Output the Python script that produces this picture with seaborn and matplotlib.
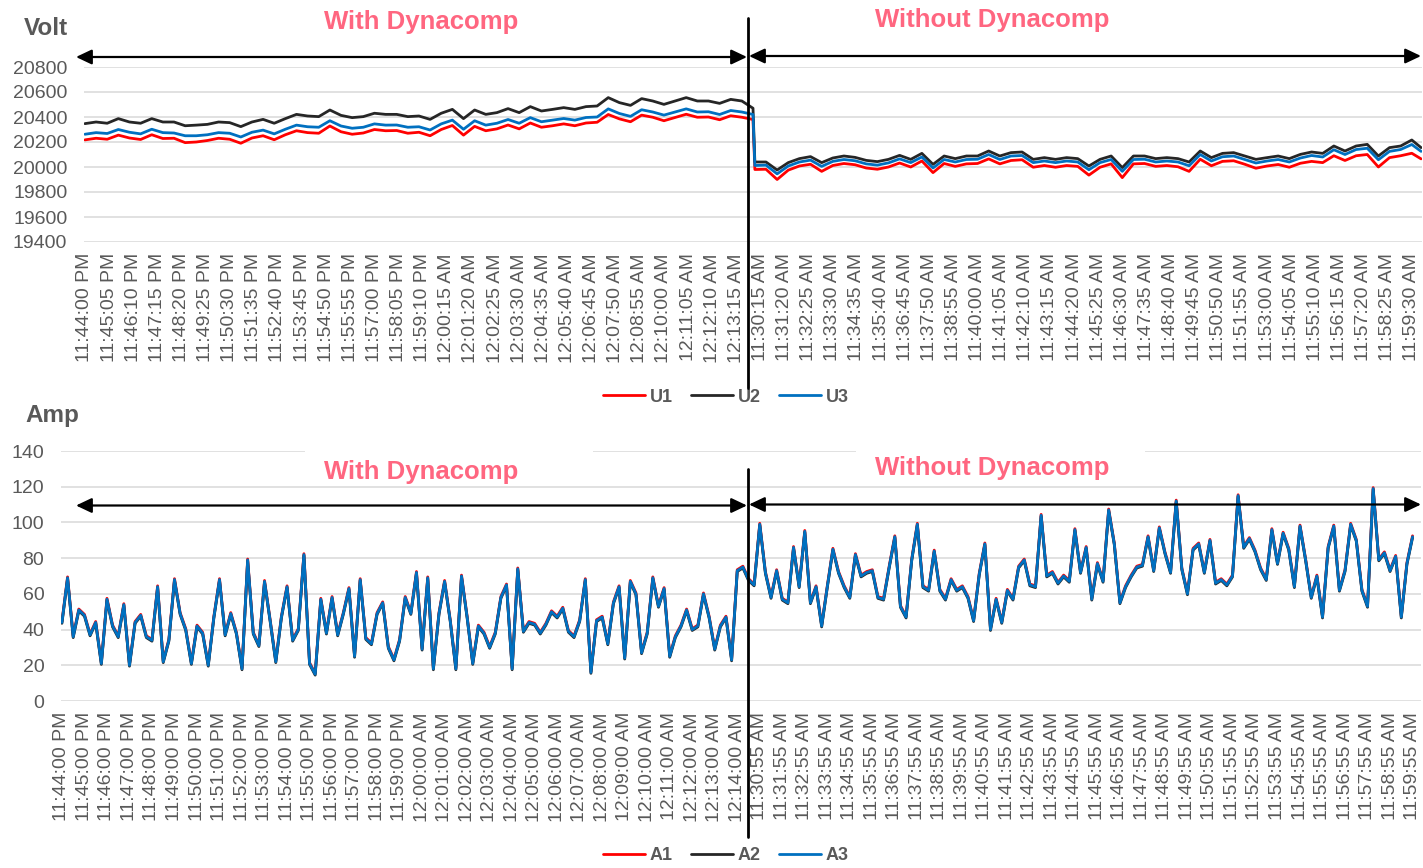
import numpy as np
import matplotlib
matplotlib.use("Agg")
import matplotlib.pyplot as plt
import seaborn as sns
from matplotlib.patches import Rectangle, FancyArrowPatch
from matplotlib.lines import Line2D

# ---------------- data ----------------
series_volt = ["U1", "U2", "U3"]
series_amp = ["A1", "A2", "A3"]

# sample positions (record numbers, 5 s apart) of the readings
volt_idx = list(range(0, 361, 6)) + list(range(361, 721, 6)) + [720]
amp_idx = list(range(0, 721, 3))

U2 = [20347, 20360, 20350, 20387, 20360, 20350, 20387, 20360, 20360, 20330,
      20335, 20341, 20360, 20355, 20323, 20360, 20381, 20350, 20387, 20421,
      20408, 20403, 20456, 20413, 20395, 20403, 20430, 20421, 20421, 20403,
      20408, 20381, 20430, 20461, 20387, 20456, 20421, 20435, 20467, 20435,
      20483, 20448, 20461, 20475, 20461, 20483, 20488, 20555, 20515, 20493,
      20547, 20528, 20501, 20528, 20555, 20528, 20528, 20509, 20541, 20528,
      20470,
      20040, 20040, 19976, 20035, 20067, 20083, 20035, 20072, 20088, 20077,
      20053, 20043, 20061, 20093, 20061, 20109, 20021, 20088, 20067, 20088,
      20088, 20128, 20088, 20115, 20120, 20061, 20075, 20061, 20075, 20067,
      20008, 20061, 20088, 19995, 20088, 20088, 20067, 20075, 20067, 20040,
      20128, 20075, 20109, 20115, 20088, 20061, 20075, 20088, 20067, 20101,
      20120, 20109, 20168, 20128, 20168, 20181, 20088, 20155, 20168, 20216,
      20155]

U3 = [20262, 20275, 20268, 20300, 20278, 20265, 20302, 20275, 20272, 20250,
      20250, 20258, 20275, 20270, 20240, 20278, 20295, 20265, 20302, 20335,
      20322, 20318, 20370, 20328, 20310, 20318, 20345, 20335, 20336, 20318,
      20322, 20296, 20345, 20375, 20302, 20370, 20335, 20350, 20380, 20350,
      20395, 20362, 20375, 20388, 20375, 20396, 20400, 20465, 20428, 20405,
      20458, 20440, 20415, 20440, 20465, 20440, 20442, 20420, 20452, 20440,
      20420,
      20012, 20015, 19945, 20008, 20040, 20055, 20005, 20045, 20060, 20050,
      20025, 20015, 20033, 20065, 20035, 20080, 19992, 20060, 20040, 20060,
      20062, 20100, 20060, 20088, 20092, 20035, 20048, 20035, 20048, 20040,
      19978, 20035, 20060, 19965, 20060, 20062, 20040, 20048, 20040, 20010,
      20100, 20048, 20082, 20088, 20060, 20032, 20048, 20060, 20040, 20072,
      20092, 20080, 20138, 20100, 20140, 20150, 20058, 20125, 20140, 20180,
      20125]

U1 = [20217, 20230, 20222, 20255, 20232, 20220, 20258, 20228, 20230, 20195,
      20200, 20212, 20230, 20222, 20190, 20232, 20250, 20218, 20258, 20290,
      20275, 20270, 20328, 20282, 20262, 20272, 20300, 20290, 20292, 20270,
      20278, 20250, 20300, 20332, 20255, 20325, 20290, 20305, 20336, 20305,
      20352, 20318, 20330, 20345, 20330, 20352, 20358, 20420, 20385, 20362,
      20415, 20398, 20370, 20396, 20422, 20398, 20400, 20378, 20410, 20398,
      20380,
      19980, 19982, 19900, 19975, 20008, 20022, 19965, 20012, 20028, 20018,
      19992, 19982, 20000, 20032, 20000, 20048, 19955, 20028, 20005, 20025,
      20028, 20065, 20025, 20052, 20058, 19998, 20012, 19998, 20012, 20005,
      19935, 19998, 20025, 19915, 20025, 20028, 20005, 20012, 20002, 19965,
      20062, 20010, 20045, 20050, 20022, 19990, 20008, 20020, 19998, 20030,
      20045, 20035, 20090, 20052, 20090, 20100, 20000, 20075, 20090, 20110,
      20065]

A3 = [44, 69, 36, 51, 48, 37, 44, 21, 57, 42, 36, 54, 20, 44, 48, 36, 34, 64, 22, 34,
      68, 49, 40, 21, 42, 38, 20, 47, 68, 37, 49, 38, 18, 79, 38, 31, 67, 45, 22, 47,
      64, 34, 40, 82, 21, 15, 57, 38, 58, 37, 49, 63, 25, 68, 35, 32, 49, 55, 30, 23,
      34, 58, 49, 72, 29, 69, 18, 49, 67, 45, 18, 70, 47, 21, 42,
      38, 30, 38, 58, 65, 18, 74, 39, 44, 43, 38, 43, 50, 47, 52, 39, 36, 45, 68, 16,
      45, 47, 32, 55, 64, 24, 67, 60, 27, 38, 69, 53, 63, 25, 36, 42, 51, 40, 42, 60,
      47, 29, 42, 47, 23, 73, 75, 68, 65, 99, 72, 58, 73, 57, 55, 86, 64, 95, 55, 64,
      42, 64, 85, 72, 64, 58, 82, 70, 72, 73, 58, 57, 75, 92, 53, 47, 79, 99, 64, 62,
      84, 62, 57, 68, 62,
      64, 58, 45, 71, 88, 40, 57, 44, 62, 57, 75, 79, 65, 64, 104, 70, 72, 66, 70, 67,
      96, 72, 86, 57, 77, 67, 107, 88, 55, 64, 70, 75, 76, 92, 73, 97, 83, 72, 112, 74,
      60, 85, 88, 72, 90, 66, 68, 65, 70, 115, 86, 91, 84, 74, 68, 96, 77, 94, 85, 64,
      98, 79, 58, 70, 47, 86, 98, 62, 73, 99, 90, 62, 53, 119, 79, 83, 73, 81, 47, 77,
      92]

A1 = [44.5, 69.5, 36.5, 51.5, 48.5, 37.5, 44.5, 21.5, 57.5, 42.5, 36.5, 54.5, 20.5, 44.5, 48.5, 36.5, 34.5, 64.5, 22.5, 34.5,
      68.5, 49.5, 40.5, 21.5, 42.5, 38.5, 20.5, 47.5, 68.5, 37.5, 49.5, 38.5, 18.5, 79.5, 38.5, 31.5, 67.5, 45.5, 22.5, 47.5,
      64.5, 34.5, 40.5, 82.5, 21.5, 15.5, 57.5, 38.5, 58.5, 37.5, 49.5, 63.5, 25.5, 68.5, 35.5, 32.5, 49.5, 55.5, 30.5, 23.5,
      34.5, 58.5, 49.5, 72.5, 29.5, 69.5, 18.5, 49.5, 67.5, 45.5, 18.5, 70.5, 47.5, 21.5, 42.5,
      38.5, 30.5, 38.5, 58.5, 65.5, 18.5, 74.5, 39.5, 44.5, 43.5, 38.5, 43.5, 50.5, 47.5, 52.5, 39.5, 36.5, 45.5, 68.5, 16.5,
      45.5, 47.5, 32.5, 55.5, 64.5, 24.5, 67.5, 60.5, 27.5, 38.5, 69.5, 53.5, 63.5, 25.5, 36.5, 42.5, 51.5, 40.5, 42.5, 60.5,
      47.5, 29.5, 42.5, 47.5, 23.5, 73.5, 75.5, 68.5, 65.5, 99.5, 72.5, 58.5, 73.5, 57.5, 55.5, 86.5, 64.5, 95.5, 55.5, 64.5,
      42.5, 64.5, 85.5, 72.5, 64.5, 58.5, 82.5, 70.5, 72.5, 73.5, 58.5, 57.5, 75.5, 92.5, 53.5, 47.5, 79.5, 99.5, 64.5, 62.5,
      84.5, 62.5, 57.5, 68.5, 62.5,
      64.5, 58.5, 45.5, 71.5, 88.5, 40.5, 57.5, 44.5, 62.5, 57.5, 75.5, 79.5, 65.5, 64.5, 104.5, 70.5, 72.5, 66.5, 70.5, 67.5,
      96.5, 72.5, 86.5, 57.5, 77.5, 67.5, 107.5, 88.5, 55.5, 64.5, 70.5, 75.5, 76.5, 92.5, 73.5, 97.5, 83.5, 72.5, 112.5, 74.5,
      60.5, 85.5, 88.5, 72.5, 90.5, 66.5, 68.5, 65.5, 70.5, 115.5, 86.5, 91.5, 84.5, 74.5, 68.5, 96.5, 77.5, 94.5, 85.5, 64.5,
      98.5, 79.5, 58.5, 70.5, 47.5, 86.5, 98.5, 62.5, 73.5, 99.5, 90.5, 62.5, 53.5, 119.5, 79.5, 83.5, 73.5, 81.5, 47.5, 77.5,
      92.5]

A2 = [43.5, 68.5, 35.5, 50.5, 47.5, 36.5, 43.5, 20.5, 56.5, 41.5, 35.5, 53.5, 19.5, 43.5, 47.5, 35.5, 33.5, 63.5, 21.5, 33.5,
      67.5, 48.5, 39.5, 20.5, 41.5, 37.5, 19.5, 46.5, 67.5, 36.5, 48.5, 37.5, 17.5, 78.5, 37.5, 30.5, 66.5, 44.5, 21.5, 46.5,
      63.5, 33.5, 39.5, 81.5, 20.5, 14.5, 56.5, 37.5, 57.5, 36.5, 48.5, 62.5, 24.5, 67.5, 34.5, 31.5, 48.5, 54.5, 29.5, 22.5,
      33.5, 57.5, 48.5, 71.5, 28.5, 68.5, 17.5, 48.5, 66.5, 44.5, 17.5, 69.5, 46.5, 20.5, 41.5,
      37.5, 29.5, 37.5, 57.5, 64.5, 17.5, 73.5, 38.5, 43.5, 42.5, 37.5, 42.5, 49.5, 46.5, 51.5, 38.5, 35.5, 44.5, 67.5, 15.5,
      44.5, 46.5, 31.5, 54.5, 63.5, 23.5, 66.5, 59.5, 26.5, 37.5, 68.5, 52.5, 62.5, 24.5, 35.5, 41.5, 50.5, 39.5, 41.5, 59.5,
      46.5, 28.5, 41.5, 46.5, 22.5, 72.5, 74.5, 67.5, 64.5, 98.5, 71.5, 57.5, 72.5, 56.5, 54.5, 85.5, 63.5, 94.5, 54.5, 63.5,
      41.5, 63.5, 84.5, 71.5, 63.5, 57.5, 81.5, 69.5, 71.5, 72.5, 57.5, 56.5, 74.5, 91.5, 52.5, 46.5, 78.5, 98.5, 63.5, 61.5,
      83.5, 61.5, 56.5, 67.5, 61.5,
      63.5, 57.5, 44.5, 70.5, 87.5, 39.5, 56.5, 43.5, 61.5, 56.5, 74.5, 78.5, 64.5, 63.5, 103.5, 69.5, 71.5, 65.5, 69.5, 66.5,
      95.5, 71.5, 85.5, 56.5, 76.5, 66.5, 106.5, 87.5, 54.5, 63.5, 69.5, 74.5, 75.5, 91.5, 72.5, 96.5, 82.5, 71.5, 111.5, 73.5,
      59.5, 84.5, 87.5, 71.5, 89.5, 65.5, 67.5, 64.5, 69.5, 114.5, 85.5, 90.5, 83.5, 73.5, 67.5, 95.5, 76.5, 93.5, 84.5, 63.5,
      97.5, 78.5, 57.5, 69.5, 46.5, 85.5, 97.5, 61.5, 72.5, 98.5, 89.5, 61.5, 52.5, 118.5, 78.5, 82.5, 72.5, 80.5, 46.5, 76.5,
      91.5]

volt_tick_labels = [
    "11:44:00 PM", "11:45:05 PM", "11:46:10 PM", "11:47:15 PM", "11:48:20 PM", "11:49:25 PM",
    "11:50:30 PM", "11:51:35 PM", "11:52:40 PM", "11:53:45 PM", "11:54:50 PM", "11:55:55 PM",
    "11:57:00 PM", "11:58:05 PM", "11:59:10 PM", "12:00:15 AM", "12:01:20 AM", "12:02:25 AM",
    "12:03:30 AM", "12:04:35 AM", "12:05:40 AM", "12:06:45 AM", "12:07:50 AM", "12:08:55 AM",
    "12:10:00 AM", "12:11:05 AM", "12:12:10 AM", "12:13:15 AM",
    "11:30:15 AM", "11:31:20 AM", "11:32:25 AM", "11:33:30 AM", "11:34:35 AM", "11:35:40 AM",
    "11:36:45 AM", "11:37:50 AM", "11:38:55 AM", "11:40:00 AM", "11:41:05 AM", "11:42:10 AM",
    "11:43:15 AM", "11:44:20 AM", "11:45:25 AM", "11:46:30 AM", "11:47:35 AM", "11:48:40 AM",
    "11:49:45 AM", "11:50:50 AM", "11:51:55 AM", "11:53:00 AM", "11:54:05 AM", "11:55:10 AM",
    "11:56:15 AM", "11:57:20 AM", "11:58:25 AM", "11:59:30 AM"]

amp_tick_labels = [
    "11:44:00 PM", "11:45:00 PM", "11:46:00 PM", "11:47:00 PM", "11:48:00 PM", "11:49:00 PM",
    "11:50:00 PM", "11:51:00 PM", "11:52:00 PM", "11:53:00 PM", "11:54:00 PM", "11:55:00 PM",
    "11:56:00 PM", "11:57:00 PM", "11:58:00 PM", "11:59:00 PM", "12:00:00 AM", "12:01:00 AM",
    "12:02:00 AM", "12:03:00 AM", "12:04:00 AM", "12:05:00 AM", "12:06:00 AM", "12:07:00 AM",
    "12:08:00 AM", "12:09:00 AM", "12:10:00 AM", "12:11:00 AM", "12:12:00 AM", "12:13:00 AM",
    "12:14:00 AM",
    "11:30:55 AM", "11:31:55 AM", "11:32:55 AM", "11:33:55 AM", "11:34:55 AM", "11:35:55 AM",
    "11:36:55 AM", "11:37:55 AM", "11:38:55 AM", "11:39:55 AM", "11:40:55 AM", "11:41:55 AM",
    "11:42:55 AM", "11:43:55 AM", "11:44:55 AM", "11:45:55 AM", "11:46:55 AM", "11:47:55 AM",
    "11:48:55 AM", "11:49:55 AM", "11:50:55 AM", "11:51:55 AM", "11:52:55 AM", "11:53:55 AM",
    "11:54:55 AM", "11:55:55 AM", "11:56:55 AM", "11:57:55 AM", "11:58:55 AM", "11:59:55 AM"]

# ---------------- style ----------------
sns.set_theme(style="white")
plt.rcParams["font.family"] = ["Liberation Sans", "DejaVu Sans"]

W, H = 1423, 868
fig = plt.figure(figsize=(W / 100, H / 100), dpi=100)


def fx(x):
    return x / W


def fy(y):
    return 1 - y / H


GRAY = "#595959"
GRID = "#D9D9D9"
PINK = "#FF6680"
COLORS = ["#FF0000", "#262626", "#0070C0"]

ax1 = fig.add_axes([fx(84), fy(242), fx(1422) - fx(84), fy(67) - fy(242)])
ax2 = fig.add_axes([fx(61), fy(701), fx(1421) - fx(61), fy(451) - fy(701)])

for name, vals, c in zip(series_volt, [U1, U2, U3], COLORS):
    sns.lineplot(x=volt_idx, y=vals, color=c, lw=2.0, ax=ax1, label=name,
                 errorbar=None, sort=False)
for name, vals, c in zip(series_amp, [A1, A2, A3], COLORS):
    sns.lineplot(x=amp_idx, y=vals, color=c, lw=2.0, ax=ax2, label=name,
                 errorbar=None, sort=False)

configs = [
    (ax1, 19400, 20800, 200, np.arange(0, 721, 13), volt_tick_labels, 720.5),
    (ax2, 0, 140, 20, np.arange(0, 721, 12), amp_tick_labels, 724.5),
]
for ax, lo, hi, step, ticks, labels, xmax in configs:
    ax.set_xlim(-0.5, xmax)
    ax.set_ylim(lo, hi)
    ax.set_yticks(np.arange(lo, hi + 1, step))
    ax.set_xticks(ticks)
    ax.set_xticklabels(labels, rotation=90, fontsize=14, color=GRAY)
    ax.tick_params(axis="x", length=0, pad=8)
    ax.tick_params(axis="y", length=0, pad=12, labelsize=14, labelcolor=GRAY)
    ax.set_axisbelow(True)
    ax.grid(axis="y", color=GRID, lw=1.1)
    ax.grid(axis="x", visible=False)
    ax.set_facecolor("none")
    for s in ax.spines.values():
        s.set_visible(False)
    ax.set_xlabel("")
    ax.set_ylabel("")

# legends
for ax, ly in [(ax1, 397), (ax2, 856)]:
    h, l = ax.get_legend_handles_labels()
    ax.legend(h, l, loc="center", bbox_to_anchor=(fx(726), fy(ly)),
              bbox_transform=fig.transFigure, ncol=3, frameon=False,
              handlelength=2.3, handletextpad=0.3, columnspacing=1.0,
              prop={"weight": "bold", "size": 13}, labelcolor=GRAY,
              borderaxespad=0, borderpad=0)

# white boxes behind the lower annotations
for x0, x1 in [(305, 593), (856, 1145)]:
    fig.add_artist(Rectangle((fx(x0), fy(482)), fx(x1) - fx(x0), fy(440) - fy(482),
                             transform=fig.transFigure, facecolor="white",
                             edgecolor="none", zorder=1))

# titles
fig.text(fx(24), fy(35), "Volt", fontsize=17.5, fontweight="bold", color=GRAY, va="baseline")
fig.text(fx(25), fy(422), "Amp", fontsize=17.5, fontweight="bold", color=GRAY, va="baseline")

# section labels
for (x, y, t) in [(421, 29, "With Dynacomp"), (992, 27, "Without Dynacomp"),
                  (421, 479, "With Dynacomp"), (992, 475, "Without Dynacomp")]:
    fig.text(fx(x), fy(y), t, fontsize=18.5, fontweight="bold", color=PINK,
             ha="center", va="baseline", zorder=4)

# dividing lines
for y0, y1 in [(18, 388), (469, 837)]:
    fig.add_artist(Line2D([fx(748), fx(748)], [fy(y0), fy(y1)], color="black",
                          lw=2.0, transform=fig.transFigure, zorder=5))

# double arrows (figure-level so that neither axes hides them)
arrow_style = "<|-|>,head_length=0.95,head_width=0.45"
for (x0, x1, y) in [(76, 747, 57), (749, 1421, 56), (76, 747, 505.5), (749, 1421, 504.5)]:
    fig.add_artist(FancyArrowPatch((fx(x0), fy(y)), (fx(x1), fy(y)),
                                   transform=fig.transFigure, arrowstyle=arrow_style,
                                   color="black", lw=1.6, shrinkA=0, shrinkB=0,
                                   mutation_scale=10, zorder=5))

fig.savefig("out.png", dpi=100)
